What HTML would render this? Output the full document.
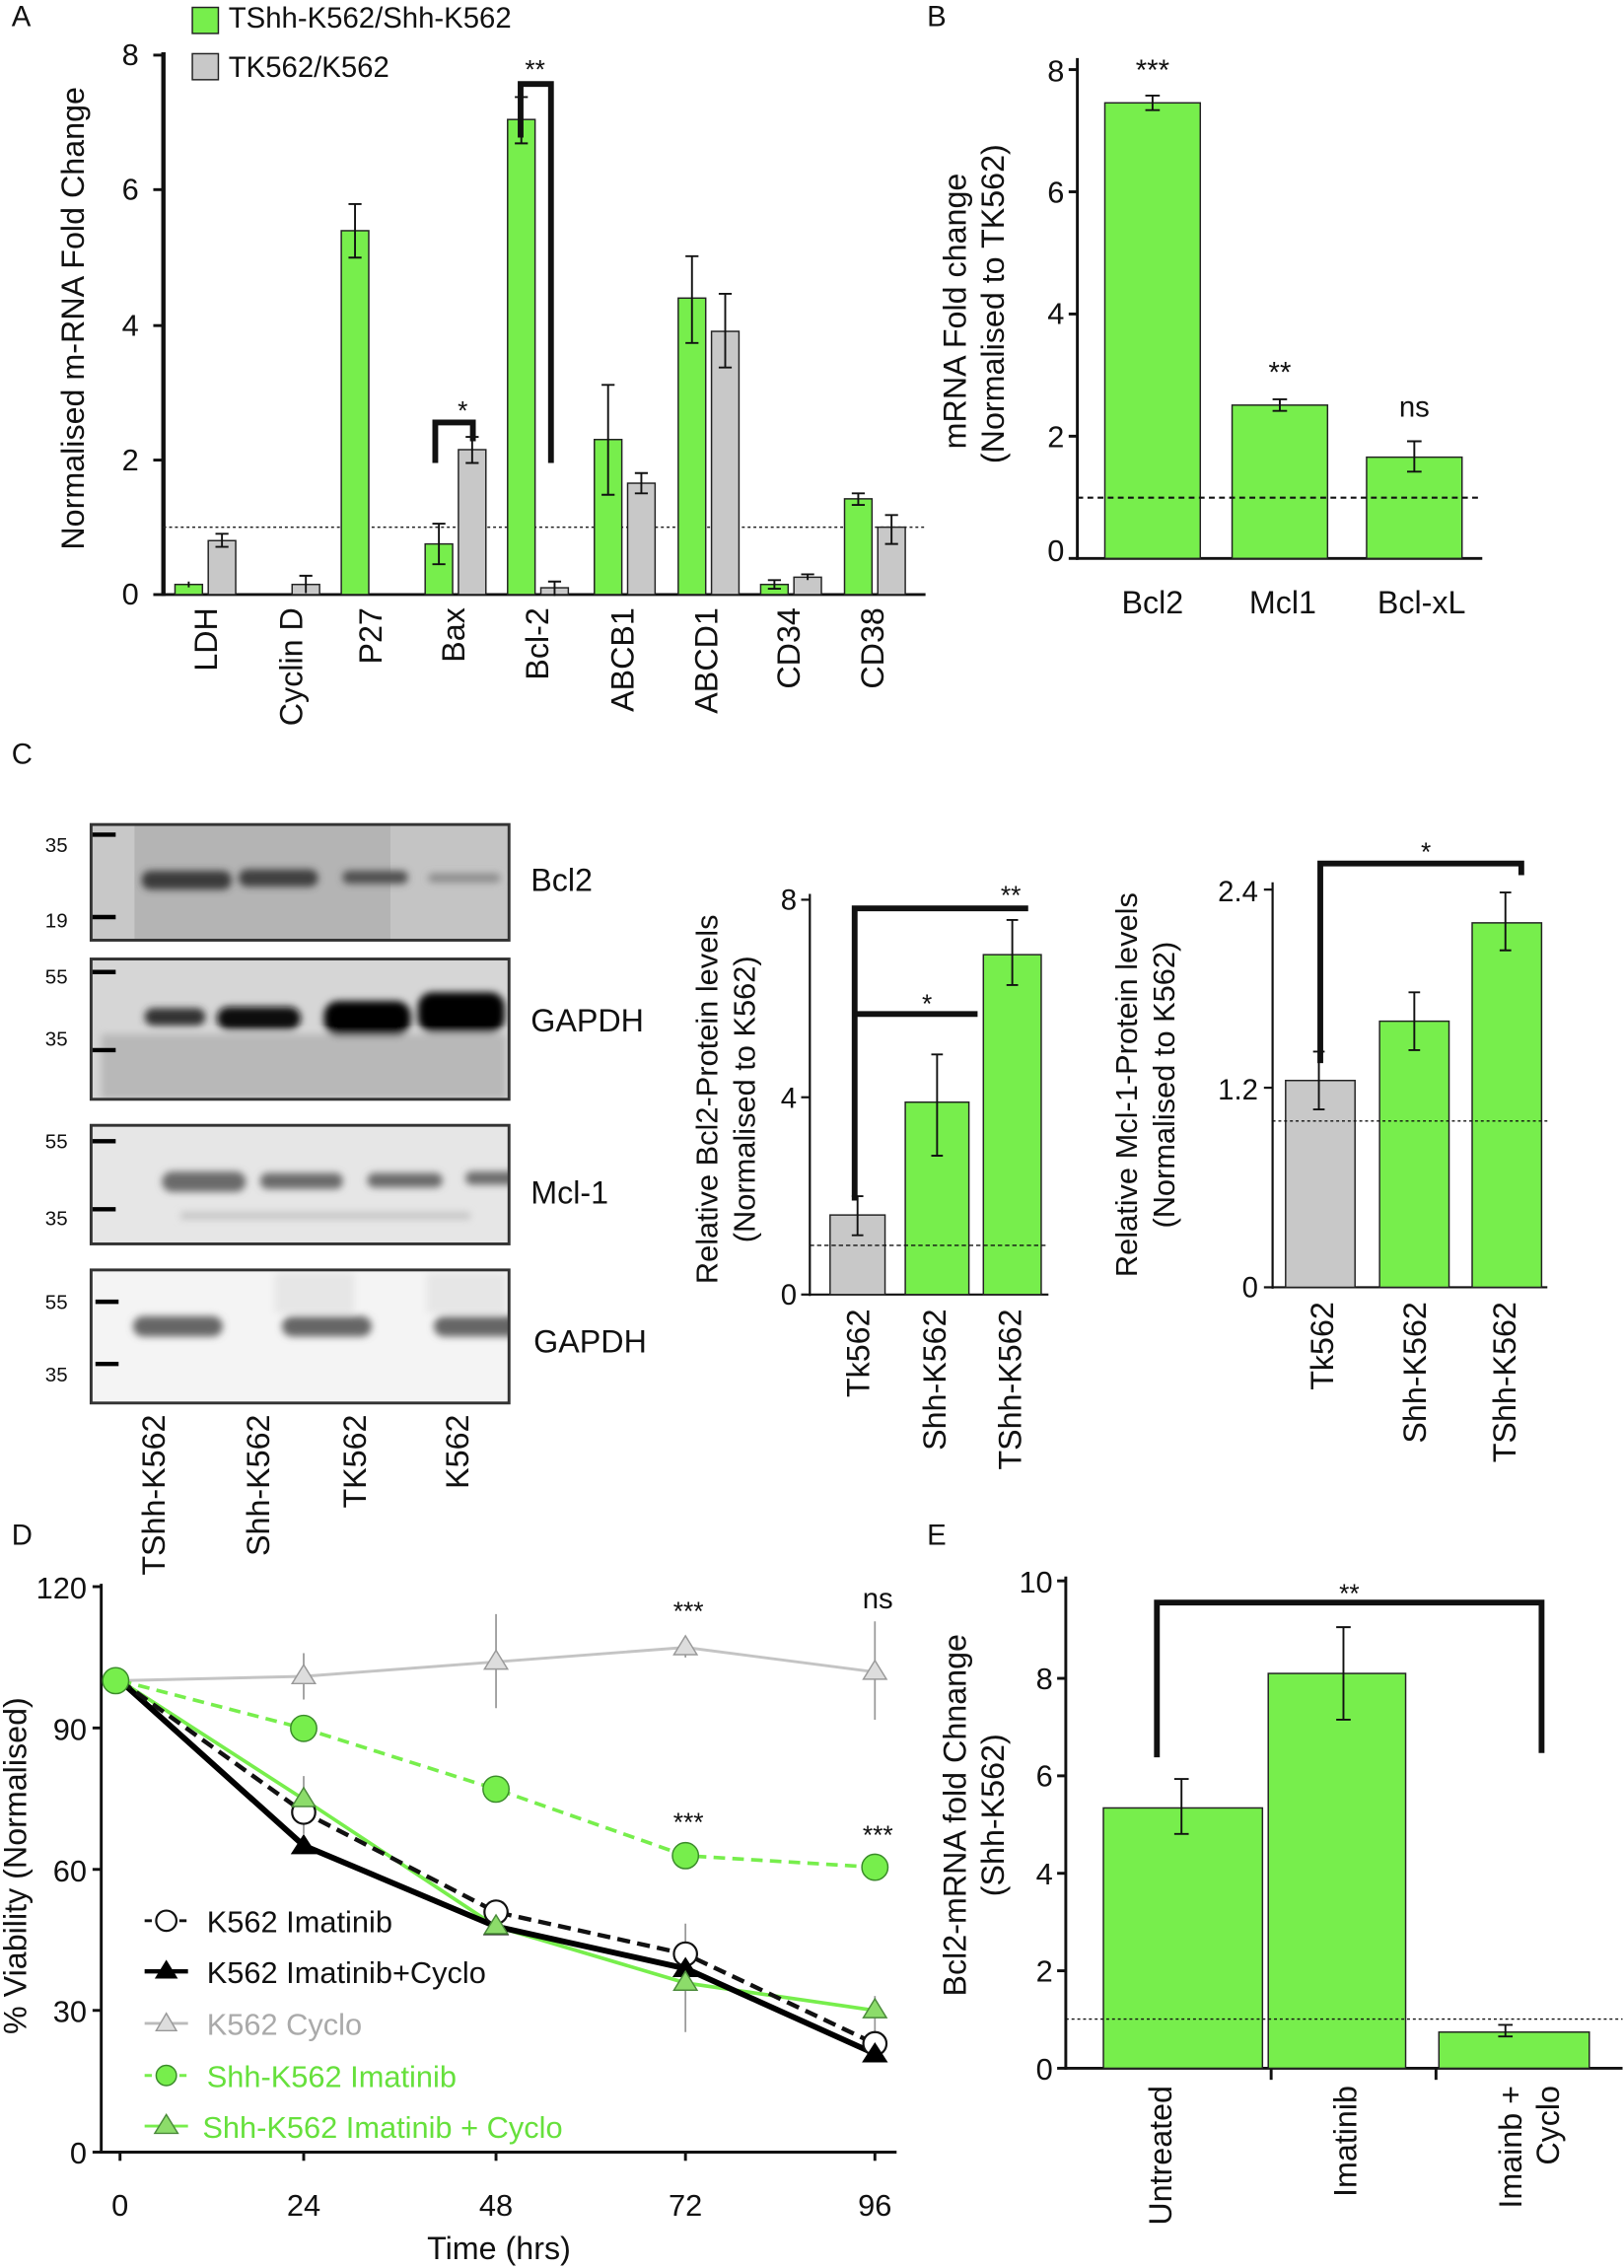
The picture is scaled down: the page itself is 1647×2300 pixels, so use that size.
<!DOCTYPE html>
<html><head><meta charset="utf-8"><style>
html,body{margin:0;padding:0;background:#fff}
svg{display:block}
text{font-family:"Liberation Sans",Arial,sans-serif;fill:#111}
</style></head><body>
<svg width="1647" height="2300" viewBox="0 0 1123 1568" xmlns="http://www.w3.org/2000/svg">
<defs>
<filter id="blur" x="-20%" y="-50%" width="140%" height="200%"><feGaussianBlur stdDeviation="2.5"/></filter>
<clipPath id="c1"><rect x="63" y="570" width="289" height="80"/></clipPath>
<clipPath id="c2"><rect x="63" y="663" width="289" height="97"/></clipPath>
<clipPath id="c3"><rect x="63" y="778" width="289" height="82"/></clipPath>
<clipPath id="c4"><rect x="63" y="878" width="289" height="92"/></clipPath>
</defs>
<g font-size="20">
<!-- ================= Panel A ================= -->
<text x="8" y="18" font-size="20">A</text>
<rect x="133" y="5" width="18" height="18" fill="#77ee4c" stroke="#222"/>
<text x="158" y="19">TShh-K562/Shh-K562</text>
<rect x="133" y="37" width="18" height="18" fill="#c8c8c8" stroke="#222"/>
<text x="158" y="53">TK562/K562</text>
<line x1="113" y1="36" x2="113" y2="412" stroke="#111" stroke-width="3"/>
<line x1="112" y1="411" x2="640" y2="411" stroke="#111" stroke-width="2"/>
<g stroke="#111" stroke-width="2">
<line x1="106" y1="411" x2="113" y2="411"/><line x1="106" y1="318" x2="113" y2="318"/><line x1="106" y1="225" x2="113" y2="225"/><line x1="106" y1="131" x2="113" y2="131"/><line x1="106" y1="38" x2="113" y2="38"/>
</g>
<g text-anchor="end" font-size="21"><text x="96" y="418">0</text><text x="96" y="325">2</text><text x="96" y="232">4</text><text x="96" y="138">6</text><text x="96" y="45">8</text></g>
<text transform="translate(58,220) rotate(-90)" text-anchor="middle" font-size="22">Normalised  m-RNA Fold Change</text>
<line x1="113" y1="364.4" x2="640" y2="364.4" stroke="#222" stroke-dasharray="2,2"/>
<g stroke="#222" stroke-width="1">
<rect x="121" y="404" width="19" height="7" fill="#77ee4c"/>
<rect x="236" y="159.4" width="19" height="251.6" fill="#77ee4c"/>
<rect x="294" y="376" width="19" height="35" fill="#77ee4c"/>
<rect x="351" y="82.5" width="19" height="328.5" fill="#77ee4c"/>
<rect x="411" y="303.8" width="19" height="107.2" fill="#77ee4c"/>
<rect x="469" y="206" width="19" height="205" fill="#77ee4c"/>
<rect x="526" y="404" width="19" height="7" fill="#77ee4c"/>
<rect x="584" y="344.8" width="19" height="66.2" fill="#77ee4c"/>
<rect x="144" y="373.7" width="19" height="37.3" fill="#c8c8c8"/>
<rect x="202" y="404" width="19" height="7" fill="#c8c8c8"/>
<rect x="317" y="310.8" width="19" height="100.2" fill="#c8c8c8"/>
<rect x="374" y="406.3" width="19" height="4.7" fill="#c8c8c8"/>
<rect x="434" y="334" width="19" height="77" fill="#c8c8c8"/>
<rect x="492" y="229" width="19" height="182" fill="#c8c8c8"/>
<rect x="549" y="399" width="19" height="12" fill="#c8c8c8"/>
<rect x="607" y="364.4" width="19" height="46.6" fill="#c8c8c8"/>
</g>
<g stroke="#111" stroke-width="1.3" fill="none">
<path d="M245.5,141v37M241,141h9M241,178h9"/>
<path d="M303.5,362v28M299,362h9M299,390h9"/>
<path d="M326.5,302v18M322,302h9M322,320h9"/>
<path d="M360.5,67v32M356,67h9M356,99h9"/>
<path d="M383.5,402v10M379,402h9"/>
<path d="M420.5,266v76M416,266h9M416,342h9"/>
<path d="M443.5,327v14M439,327h9M439,341h9"/>
<path d="M478.5,177v60M474,177h9M474,237h9"/>
<path d="M501.5,203v51M497,203h9M497,254h9"/>
<path d="M153.5,369v9M149,369h9M149,378h9"/>
<path d="M211.5,398v12M207,398h9"/>
<path d="M593.5,341v8M589,341h9M589,349h9"/>
<path d="M616.5,356v20M612,356h9M612,376h9"/>
<path d="M535.5,401v6M531,401h9M531,407h9"/>
<path d="M558.5,397v4M554,397h9"/>
<path d="M130.5,402v4"/>
</g>
<path d="M301,320V292H327V305" stroke="#111" stroke-width="4" fill="none"/>
<text x="320" y="290" text-anchor="middle" font-size="18">*</text>
<path d="M360,95V58H381V320" stroke="#111" stroke-width="4" fill="none"/>
<text x="370" y="54" text-anchor="middle" font-size="18">**</text>
<g text-anchor="end" font-size="22">
<text transform="translate(150,420) rotate(-90)">LDH</text>
<text transform="translate(209,420) rotate(-90)">Cyclin D</text>
<text transform="translate(264,420) rotate(-90)">P27</text>
<text transform="translate(321,420) rotate(-90)">Bax</text>
<text transform="translate(379,420) rotate(-90)">Bcl-2</text>
<text transform="translate(438,420) rotate(-90)">ABCB1</text>
<text transform="translate(496,420) rotate(-90)">ABCD1</text>
<text transform="translate(553,420) rotate(-90)">CD34</text>
<text transform="translate(611,420) rotate(-90)">CD38</text>
</g>

<!-- ================= Panel B ================= -->
<text x="641" y="18">B</text>
<line x1="745" y1="40" x2="745" y2="387" stroke="#111" stroke-width="2"/>
<line x1="744" y1="386" x2="1025" y2="386" stroke="#111" stroke-width="2"/>
<g stroke="#111" stroke-width="2"><line x1="739" y1="386" x2="745" y2="386"/><line x1="739" y1="301.5" x2="745" y2="301.5"/><line x1="739" y1="217" x2="745" y2="217"/><line x1="739" y1="132.5" x2="745" y2="132.5"/><line x1="739" y1="48" x2="745" y2="48"/></g>
<g text-anchor="end" font-size="21"><text x="736" y="388">0</text><text x="736" y="309">2</text><text x="736" y="224">4</text><text x="736" y="140">6</text><text x="736" y="56">8</text></g>
<text transform="translate(668,215) rotate(-90)" text-anchor="middle" font-size="22">mRNA Fold change</text>
<text transform="translate(694,210) rotate(-90)" text-anchor="middle" font-size="22">(Normalised to TK562)</text>
<g stroke="#222" fill="#77ee4c"><rect x="764" y="71" width="66" height="315"/><rect x="852" y="280" width="66" height="106"/><rect x="945" y="316" width="66" height="70"/></g>
<line x1="745" y1="344" x2="1025" y2="344" stroke="#111" stroke-dasharray="4,3" stroke-width="1.5"/>
<g stroke="#111" stroke-width="1.3"><path d="M797,66v10M792,66h10M792,76h10"/><path d="M885,276v8M880,276h10M880,284h10"/><path d="M978,305v21M973,305h10M973,326h10"/></g>
<g text-anchor="middle" font-size="20"><text x="797" y="55">***</text><text x="885" y="264">**</text><text x="978" y="288">ns</text></g>
<g text-anchor="middle" font-size="22"><text x="797" y="424">Bcl2</text><text x="887" y="424">Mcl1</text><text x="983" y="424">Bcl-xL</text></g>

<!-- ================= Panel C blots ================= -->
<text x="8" y="528">C</text>
<g clip-path="url(#c1)">
<rect x="63" y="570" width="289" height="80" fill="#b4b4b4"/>
<rect x="63" y="570" width="30" height="80" fill="#c8c8c8"/>
<rect x="270" y="570" width="82" height="80" fill="#c4c4c4"/>
<g filter="url(#blur)">
<rect x="98" y="602" width="62" height="13" rx="6" fill="#3a3a3a"/>
<rect x="165" y="601" width="55" height="12" rx="6" fill="#404040"/>
<rect x="237" y="602" width="45" height="9" rx="4" fill="#505050"/>
<rect x="296" y="604" width="50" height="6" rx="3" fill="#8a8a8a"/>
</g></g>
<g clip-path="url(#c2)">
<rect x="63" y="663" width="289" height="97" fill="#d6d6d6"/>
<g filter="url(#blur)">
<rect x="70" y="715" width="280" height="45" fill="#b8b8b8"/>
<rect x="100" y="697" width="42" height="12" rx="6" fill="#333"/>
<rect x="150" y="696" width="58" height="16" rx="8" fill="#111"/>
<rect x="224" y="692" width="60" height="24" rx="10" fill="#000"/>
<rect x="289" y="686" width="60" height="28" rx="10" fill="#000"/>
</g></g>
<g clip-path="url(#c3)">
<rect x="63" y="778" width="289" height="82" fill="#e6e6e6"/>
<g filter="url(#blur)">
<rect x="112" y="810" width="58" height="14" rx="7" fill="#6a6a6a"/>
<rect x="180" y="811" width="57" height="11" rx="5" fill="#6a6a6a"/>
<rect x="254" y="811" width="52" height="10" rx="5" fill="#6a6a6a"/>
<rect x="322" y="810" width="52" height="9" rx="4" fill="#6a6a6a"/>
<rect x="125" y="838" width="200" height="5" fill="#c4c4c4"/>
</g></g>
<g clip-path="url(#c4)">
<rect x="63" y="878" width="289" height="92" fill="#f4f4f4"/>
<g filter="url(#blur)">
<rect x="92" y="910" width="62" height="14" rx="7" fill="#666"/>
<rect x="195" y="910" width="62" height="14" rx="7" fill="#666"/>
<rect x="300" y="910" width="62" height="14" rx="7" fill="#666"/>
<rect x="190" y="880" width="55" height="28" fill="#e6e6e6"/>
<rect x="295" y="880" width="55" height="28" fill="#e6e6e6"/>
</g></g>
<g fill="none" stroke="#333" stroke-width="2">
<rect x="63" y="570" width="289" height="80"/><rect x="63" y="663" width="289" height="97"/><rect x="63" y="778" width="289" height="82"/><rect x="63" y="878" width="289" height="92"/>
</g>
<g stroke="#000" stroke-width="3"><line x1="64" y1="577" x2="80" y2="577"/><line x1="64" y1="634" x2="80" y2="634"/><line x1="64" y1="672" x2="80" y2="672"/><line x1="64" y1="726" x2="80" y2="726"/><line x1="64" y1="789" x2="80" y2="789"/><line x1="64" y1="836" x2="80" y2="836"/><line x1="66" y1="900" x2="82" y2="900"/><line x1="66" y1="943" x2="82" y2="943"/></g>
<g font-size="14" text-anchor="middle"><text x="39" y="589">35</text><text x="39" y="641">19</text><text x="39" y="680">55</text><text x="39" y="723">35</text><text x="39" y="794">55</text><text x="39" y="847">35</text><text x="39" y="905">55</text><text x="39" y="955">35</text></g>
<g font-size="22"><text x="367" y="616">Bcl2</text><text x="367" y="713">GAPDH</text><text x="367" y="832">Mcl-1</text><text x="369" y="935">GAPDH</text></g>
<g text-anchor="end" font-size="22">
<text transform="translate(114,978) rotate(-90)">TShh-K562</text>
<text transform="translate(186,978) rotate(-90)">Shh-K562</text>
<text transform="translate(253,978) rotate(-90)">TK562</text>
<text transform="translate(324,978) rotate(-90)">K562</text>
</g>

<!-- C2 -->
<line x1="560" y1="618" x2="560" y2="896" stroke="#111" stroke-width="1.5"/>
<line x1="560" y1="895" x2="725" y2="895" stroke="#111" stroke-width="1.5"/>
<g stroke="#111" stroke-width="1.5"><line x1="554" y1="895" x2="560" y2="895"/><line x1="554" y1="758.6" x2="560" y2="758.6"/><line x1="554" y1="622" x2="560" y2="622"/></g>
<g text-anchor="end" font-size="20"><text x="551" y="902">0</text><text x="551" y="766">4</text><text x="551" y="629">8</text></g>
<text transform="translate(496,760) rotate(-90)" text-anchor="middle" font-size="21">Relative Bcl2-Protein levels</text>
<text transform="translate(522,760) rotate(-90)" text-anchor="middle" font-size="21">(Normalised to K562)</text>
<g stroke="#222"><rect x="574" y="840" width="38" height="55" fill="#c8c8c8"/><rect x="626" y="762" width="44" height="133" fill="#77ee4c"/><rect x="680" y="660" width="40" height="235" fill="#77ee4c"/></g>
<line x1="560" y1="861" x2="725" y2="861" stroke="#111" stroke-dasharray="3,2"/>
<g stroke="#111" stroke-width="1.3"><path d="M593,827v27M589,827h8M589,854h8"/><path d="M648,729v70M644,729h8M644,799h8"/><path d="M700,636v45M696,636h8M696,681h8"/></g>
<path d="M591,830V628H711" stroke="#111" stroke-width="4" fill="none"/>
<path d="M591,701H676" stroke="#111" stroke-width="4" fill="none"/>
<text x="641" y="700" text-anchor="middle" font-size="18">*</text>
<text x="699" y="625" text-anchor="middle" font-size="18">**</text>
<g text-anchor="end" font-size="22">
<text transform="translate(601,905) rotate(-90)">Tk562</text>
<text transform="translate(654,905) rotate(-90)">Shh-K562</text>
<text transform="translate(706,905) rotate(-90)">TShh-K562</text>
</g>

<!-- C3 -->
<line x1="880" y1="610" x2="880" y2="891" stroke="#111" stroke-width="1.5"/>
<line x1="880" y1="890" x2="1070" y2="890" stroke="#111" stroke-width="1.5"/>
<g stroke="#111" stroke-width="1.5"><line x1="874" y1="890" x2="880" y2="890"/><line x1="874" y1="752" x2="880" y2="752"/><line x1="874" y1="615" x2="880" y2="615"/></g>
<g text-anchor="end" font-size="20"><text x="870" y="897">0</text><text x="870" y="760">1.2</text><text x="870" y="623">2.4</text></g>
<text transform="translate(786,750) rotate(-90)" text-anchor="middle" font-size="21">Relative Mcl-1-Protein levels</text>
<text transform="translate(812,750) rotate(-90)" text-anchor="middle" font-size="21">(Normalised to K562)</text>
<g stroke="#222"><rect x="889" y="747" width="48" height="143" fill="#c8c8c8"/><rect x="954" y="706" width="48" height="184" fill="#77ee4c"/><rect x="1018" y="638" width="48" height="252" fill="#77ee4c"/></g>
<line x1="880" y1="775" x2="1070" y2="775" stroke="#111" stroke-dasharray="2,2"/>
<g stroke="#111" stroke-width="1.3"><path d="M912,727v40M908,727h8M908,767h8"/><path d="M978,686v40M974,686h8M974,726h8"/><path d="M1041,617v40M1037,617h8M1037,657h8"/></g>
<path d="M913,735V597H1052V605" stroke="#111" stroke-width="4" fill="none"/>
<text x="986" y="595" text-anchor="middle" font-size="18">*</text>
<g text-anchor="end" font-size="22">
<text transform="translate(922,900) rotate(-90)">Tk562</text>
<text transform="translate(986,900) rotate(-90)">Shh-K562</text>
<text transform="translate(1048,900) rotate(-90)">TShh-K562</text>
</g>

<!-- ================= Panel D ================= -->
<text x="8" y="1068">D</text>
<line x1="70" y1="1095" x2="70" y2="1489" stroke="#111" stroke-width="2"/>
<line x1="69" y1="1488" x2="620" y2="1488" stroke="#111" stroke-width="2"/>
<g stroke="#111" stroke-width="2"><line x1="64" y1="1488" x2="70" y2="1488"/><line x1="64" y1="1390" x2="70" y2="1390"/><line x1="64" y1="1292.5" x2="70" y2="1292.5"/><line x1="64" y1="1194.7" x2="70" y2="1194.7"/><line x1="64" y1="1097" x2="70" y2="1097"/>
<line x1="83" y1="1488" x2="83" y2="1494"/><line x1="210" y1="1488" x2="210" y2="1494"/><line x1="343" y1="1488" x2="343" y2="1494"/><line x1="474" y1="1488" x2="474" y2="1494"/><line x1="605" y1="1488" x2="605" y2="1494"/></g>
<g text-anchor="end" font-size="21"><text x="60" y="1496">0</text><text x="60" y="1398">30</text><text x="60" y="1301">60</text><text x="60" y="1203">90</text><text x="60" y="1105">120</text></g>
<g text-anchor="middle" font-size="21"><text x="83" y="1532">0</text><text x="210" y="1532">24</text><text x="343" y="1532">48</text><text x="474" y="1532">72</text><text x="605" y="1532">96</text></g>
<text x="345" y="1562" text-anchor="middle" font-size="22">Time (hrs)</text>
<text transform="translate(18,1290) rotate(-90)" text-anchor="middle" font-size="22">% Viability (Normalised)</text>
<g stroke="#999" stroke-width="1.2"><path d="M210,1143v32M343,1116v65M474,1133v13M605,1121v68"/><path d="M210,1240v28M343,1320v12M474,1330v75M605,1380v25M210,1228v40"/></g>
<polyline points="83,1162 210,1159 343,1149 474,1139 605,1156" fill="none" stroke="#c4c4c4" stroke-width="2"/>
<polyline points="83,1162 210,1195 343,1237 474,1283 605,1291" fill="none" stroke="#77ee4c" stroke-width="2.5" stroke-dasharray="8,5"/>
<polyline points="83,1162 210,1244 343,1332 474,1371 605,1390" fill="none" stroke="#77ee4c" stroke-width="2.5"/>
<polyline points="83,1162 210,1276 343,1332 474,1361 605,1420" fill="none" stroke="#000" stroke-width="4"/>
<polyline points="83,1162 210,1253 343,1322 474,1351 605,1413" fill="none" stroke="#111" stroke-width="3" stroke-dasharray="9,5"/>
<g fill="#ddd" stroke="#999"><path d="M210,1151l-8,13h16z"/><path d="M343,1141l-8,13h16z"/><path d="M474,1131l-8,13h16z"/><path d="M605,1148l-8,13h16z"/></g>
<g fill="#fff" stroke="#111" stroke-width="1.5"><circle cx="210" cy="1253" r="8"/><circle cx="343" cy="1322" r="8"/><circle cx="474" cy="1351" r="8"/><circle cx="605" cy="1413" r="8"/></g>
<g fill="#000"><path d="M210,1268l-9,14h18z"/><path d="M343,1324l-9,14h18z"/><path d="M474,1353l-9,14h18z"/><path d="M605,1412l-9,14h18z"/></g>
<g fill="#77ee4c" stroke="#3a8a2a"><circle cx="210" cy="1195" r="9"/><circle cx="343" cy="1237" r="9"/><circle cx="474" cy="1283" r="9"/><circle cx="605" cy="1291" r="9"/></g>
<g fill="#8cdc6a" stroke="#4a8a3a"><path d="M210,1236l-8,13h16z"/><path d="M343,1324l-8,13h16z"/><path d="M474,1363l-8,13h16z"/><path d="M605,1382l-8,13h16z"/></g>
<circle cx="80" cy="1162" r="9" fill="#77ee4c" stroke="#3a8a2a"/>
<text x="476" y="1120" text-anchor="middle" font-size="18">***</text>
<text x="607" y="1112" text-anchor="middle" font-size="20">ns</text>
<text x="476" y="1266" text-anchor="middle" font-size="18">***</text>
<text x="607" y="1275" text-anchor="middle" font-size="18">***</text>
<g font-size="21">
<line x1="100" y1="1328" x2="130" y2="1328" stroke="#111" stroke-width="2" stroke-dasharray="5,3"/><circle cx="115" cy="1328" r="7" fill="#fff" stroke="#111" stroke-width="1.5"/><text x="143" y="1336">K562 Imatinib</text>
<line x1="100" y1="1363" x2="130" y2="1363" stroke="#000" stroke-width="3"/><path d="M115,1355l-8,13h16z"/><text x="143" y="1371">K562 Imatinib+Cyclo</text>
<line x1="100" y1="1399" x2="130" y2="1399" stroke="#bbb" stroke-width="2"/><path d="M115,1392l-7,12h14z" fill="#ddd" stroke="#999"/><text x="143" y="1407" style="fill:#aaa">K562 Cyclo</text>
<line x1="100" y1="1435" x2="130" y2="1435" stroke="#77ee4c" stroke-width="2" stroke-dasharray="5,3"/><circle cx="115" cy="1435" r="7" fill="#77ee4c" stroke="#3a8a2a"/><text x="143" y="1443" style="fill:#66e03c">Shh-K562 Imatinib</text>
<line x1="100" y1="1470" x2="130" y2="1470" stroke="#77ee4c" stroke-width="2"/><path d="M115,1462l-8,13h16z" fill="#8cdc6a" stroke="#4a8a3a"/><text x="140" y="1478" style="fill:#66e03c">Shh-K562 Imatinib + Cyclo</text>
</g>

<!-- ================= Panel E ================= -->
<text x="641" y="1068">E</text>
<line x1="737" y1="1090" x2="737" y2="1431" stroke="#111" stroke-width="2"/>
<line x1="736" y1="1430" x2="1122" y2="1430" stroke="#111" stroke-width="2"/>
<g stroke="#111" stroke-width="2"><line x1="731" y1="1430" x2="737" y2="1430"/><line x1="731" y1="1362.6" x2="737" y2="1362.6"/><line x1="731" y1="1295.2" x2="737" y2="1295.2"/><line x1="731" y1="1227.8" x2="737" y2="1227.8"/><line x1="731" y1="1160.4" x2="737" y2="1160.4"/><line x1="731" y1="1093" x2="737" y2="1093"/>
<line x1="879" y1="1430" x2="879" y2="1438"/><line x1="993" y1="1430" x2="993" y2="1438"/></g>
<g text-anchor="end" font-size="21"><text x="728" y="1438">0</text><text x="728" y="1370">2</text><text x="728" y="1303">4</text><text x="728" y="1235">6</text><text x="728" y="1168">8</text><text x="728" y="1101">10</text></g>
<text transform="translate(668,1255) rotate(-90)" text-anchor="middle" font-size="22">Bcl2-mRNA fold Chnange</text>
<text transform="translate(694,1255) rotate(-90)" text-anchor="middle" font-size="22">(Shh-K562)</text>
<g stroke="#222" fill="#77ee4c"><rect x="763" y="1250" width="110" height="180"/><rect x="877" y="1157" width="95" height="273"/><rect x="995" y="1405" width="104" height="25"/></g>
<line x1="737" y1="1396" x2="1122" y2="1396" stroke="#111" stroke-dasharray="2,2"/>
<g stroke="#111" stroke-width="1.3"><path d="M817,1230v38M812,1230h10M812,1268h10"/><path d="M929,1125v64M924,1125h10M924,1189h10"/><path d="M1041,1400v8M1036,1400h10M1036,1408h10"/></g>
<path d="M800,1215V1108H1066V1212" stroke="#111" stroke-width="4" fill="none"/>
<text x="933" y="1108" text-anchor="middle" font-size="18">**</text>
<g text-anchor="end" font-size="22">
<text transform="translate(810,1442) rotate(-90)">Untreated</text>
<text transform="translate(938,1442) rotate(-90)">Imatinib</text>
<text transform="translate(1052,1442) rotate(-90)">Imainb +</text>
<text transform="translate(1078,1442) rotate(-90)">Cyclo</text>
</g>
</g>
</svg>
</body></html>
